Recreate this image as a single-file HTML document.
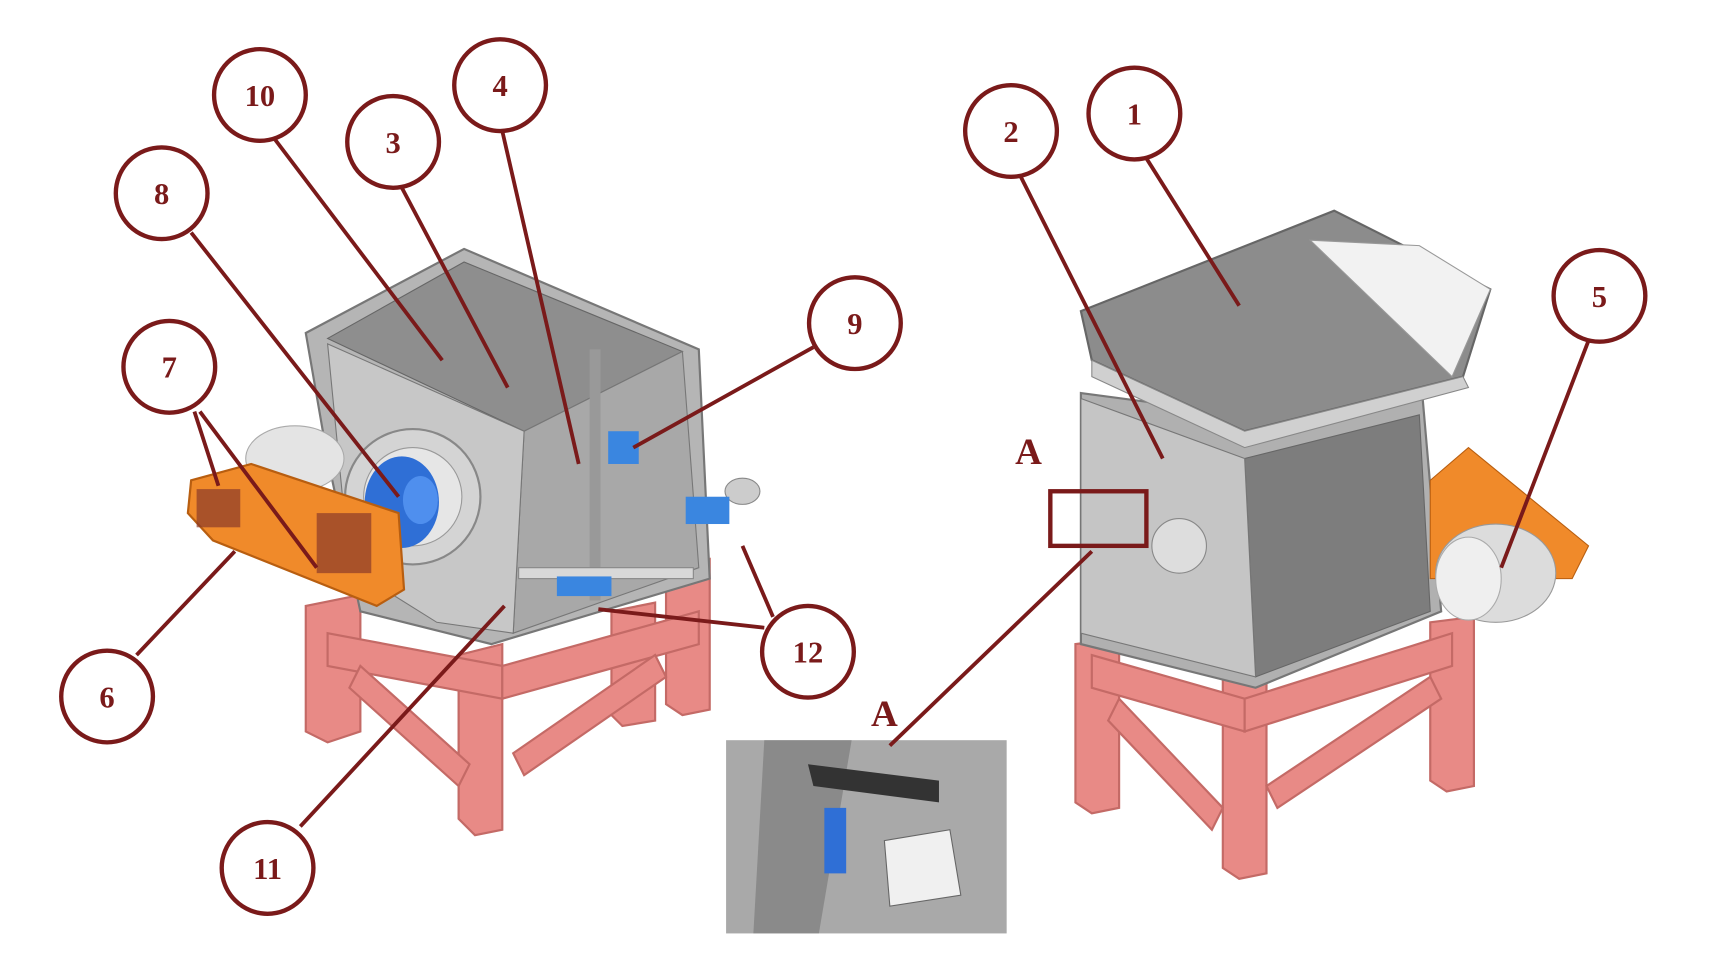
<!DOCTYPE html>
<html><head><meta charset="utf-8"><style>
html,body{margin:0;padding:0;background:#fff;}
svg{display:block}
text{font-family:"Liberation Serif",serif;font-weight:bold;fill:#7a1a1a;}
</style></head><body>
<svg width="1712" height="976" viewBox="0 0 1568 894" xmlns="http://www.w3.org/2000/svg">
<rect width="1568" height="894" fill="#fff"/>
<!-- LEFT MACHINE stand -->
<g fill="#e88a86" stroke="#c46a66" stroke-width="2">
<polygon points="280,555 330,545 330,670 300,680 280,670"/>
<polygon points="420,600 460,590 460,760 435,765 420,750"/>
<polygon points="560,560 600,552 600,660 570,665 560,655"/>
<polygon points="610,520 650,512 650,650 625,655 610,645"/>
<polygon points="300,580 460,610 460,640 300,610"/>
<polygon points="460,610 640,560 640,590 460,640"/>
<polygon points="330,610 430,700 420,720 320,630"/>
<polygon points="470,690 600,600 610,620 480,710"/>
</g>
<!-- left body -->
<polygon points="280,305 425,228 640,320 650,530 450,590 330,560 300,420" fill="#b5b5b5" stroke="#777" stroke-width="2"/>
<polygon points="300,310 425,240 625,322 480,395" fill="#8e8e8e" stroke="#666"/>
<polygon points="480,395 625,322 640,520 470,580" fill="#a8a8a8" stroke="#777"/>
<polygon points="300,315 480,395 470,580 400,570 320,520" fill="#c7c7c7" stroke="#777"/>
<circle cx="378" cy="455" r="62" fill="#d4d4d4" stroke="#888" stroke-width="2"/>
<circle cx="378" cy="455" r="45" fill="#e6e6e6" stroke="#999"/>
<ellipse cx="368" cy="460" rx="34" ry="42" fill="#2f6fd6"/>
<ellipse cx="385" cy="458" rx="16" ry="22" fill="#4f8fee"/>
<ellipse cx="270" cy="420" rx="45" ry="30" fill="#e4e4e4" stroke="#aaa"/>
<rect x="540" y="320" width="10" height="230" fill="#999"/>
<rect x="557" y="395" width="28" height="30" fill="#3a86e0"/>
<rect x="475" y="520" width="160" height="10" fill="#d8d8d8" stroke="#888"/>
<rect x="510" y="528" width="50" height="18" fill="#3a86e0"/>
<ellipse cx="680" cy="450" rx="16" ry="12" fill="#ccc" stroke="#888"/>
<rect x="628" y="455" width="40" height="25" fill="#3a86e0"/>
<!-- orange guard -->
<polygon points="175,440 230,425 365,470 370,540 345,555 195,495 172,470" fill="#f08a2a" stroke="#b85e10" stroke-width="2"/>
<rect x="180" y="448" width="40" height="35" fill="#8a3a2a" opacity=".7"/>
<rect x="290" y="470" width="50" height="55" fill="#8a3a2a" opacity=".7"/>
<!-- RIGHT MACHINE stand -->
<g fill="#e88a86" stroke="#c46a66" stroke-width="2">
<polygon points="985,590 1025,585 1025,740 1000,745 985,735"/>
<polygon points="1120,620 1160,615 1160,800 1135,805 1120,795"/>
<polygon points="1310,570 1350,565 1350,720 1325,725 1310,715"/>
<polygon points="1000,600 1140,640 1140,670 1000,630"/>
<polygon points="1140,640 1330,580 1330,610 1140,670"/>
<polygon points="1025,640 1120,740 1110,760 1015,660"/>
<polygon points="1160,720 1310,620 1320,640 1170,740"/>
</g>
<!-- right body -->
<polygon points="990,360 1140,380 1300,330 1320,560 1150,630 990,590" fill="#b0b0b0" stroke="#777" stroke-width="2"/>
<polygon points="1140,420 1300,380 1310,560 1150,620" fill="#7d7d7d" stroke="#666"/>
<polygon points="990,365 1140,420 1150,620 990,580" fill="#c5c5c5" stroke="#777"/>
<circle cx="1080" cy="500" r="25" fill="#ddd" stroke="#888"/>
<!-- hopper -->
<polygon points="990,285 1222,193 1365,265 1340,345 1140,395 1000,330" fill="#8c8c8c" stroke="#666" stroke-width="2"/>
<polygon points="1200,220 1300,225 1365,265 1330,345" fill="#f2f2f2" stroke="#999"/>
<polygon points="1000,330 1140,395 1340,345 1345,355 1140,410 1000,345" fill="#d0d0d0" stroke="#888"/>
<!-- orange + motor -->
<polygon points="1310,440 1345,410 1455,500 1440,530 1310,530" fill="#f08a2a" stroke="#b85e10"/>
<ellipse cx="1370" cy="525" rx="55" ry="45" fill="#dcdcdc" stroke="#999"/>
<ellipse cx="1345" cy="530" rx="30" ry="38" fill="#efefef" stroke="#aaa"/>
<rect x="962" y="450" width="88" height="50" fill="none" stroke="#7a1a1a" stroke-width="4"/>
<!-- inset -->
<rect x="665" y="678" width="257" height="177" fill="#a9a9a9"/>
<polygon points="700,678 780,678 750,855 690,855" fill="#8a8a8a"/>
<polygon points="740,700 860,715 860,735 745,720" fill="#333"/>
<rect x="755" y="740" width="20" height="60" fill="#2f6fd6"/>
<polygon points="810,770 870,760 880,820 815,830" fill="#f0f0f0" stroke="#666"/>
<!-- leader lines -->
<g stroke="#7a1a1a" stroke-width="3.5" fill="none">
<line x1="252" y1="128" x2="405" y2="330"/>
<line x1="368" y1="172" x2="465" y2="355"/>
<line x1="460" y1="120" x2="530" y2="425"/>
<line x1="175" y1="213" x2="365" y2="455"/>
<line x1="178" y1="377" x2="200" y2="445"/>
<line x1="183" y1="377" x2="290" y2="520"/>
<line x1="745" y1="318" x2="580" y2="410"/>
<line x1="125" y1="600" x2="215" y2="505"/>
<line x1="275" y1="757" x2="462" y2="555"/>
<line x1="700" y1="575" x2="548" y2="558"/>
<line x1="708" y1="565" x2="680" y2="500"/>
<line x1="935" y1="162" x2="1065" y2="420"/>
<line x1="1050" y1="145" x2="1135" y2="280"/>
<line x1="1455" y1="312" x2="1375" y2="520"/>
<line x1="1000" y1="505" x2="815" y2="683"/>
</g>
<g fill="#fff" stroke="#7a1a1a" stroke-width="4">
<circle cx="238" cy="87" r="42"/><circle cx="360" cy="130" r="42"/><circle cx="458" cy="78" r="42"/>
<circle cx="148" cy="177" r="42"/><circle cx="155" cy="336" r="42"/><circle cx="783" cy="296" r="42"/>
<circle cx="98" cy="638" r="42"/><circle cx="245" cy="795" r="42"/><circle cx="740" cy="597" r="42"/>
<circle cx="926" cy="120" r="42"/><circle cx="1039" cy="104" r="42"/><circle cx="1465" cy="271" r="42"/>
</g>
<g font-size="28" text-anchor="middle">
<text x="238" y="97">10</text><text x="360" y="140">3</text><text x="458" y="88">4</text>
<text x="148" y="187">8</text><text x="155" y="346">7</text><text x="783" y="306">9</text>
<text x="98" y="648">6</text><text x="245" y="805">11</text><text x="740" y="607">12</text>
<text x="926" y="130">2</text><text x="1039" y="114">1</text><text x="1465" y="281">5</text>
<text x="942" y="425" font-size="34">A</text><text x="810" y="665" font-size="34">A</text>
</g>
</svg>
</body></html>
